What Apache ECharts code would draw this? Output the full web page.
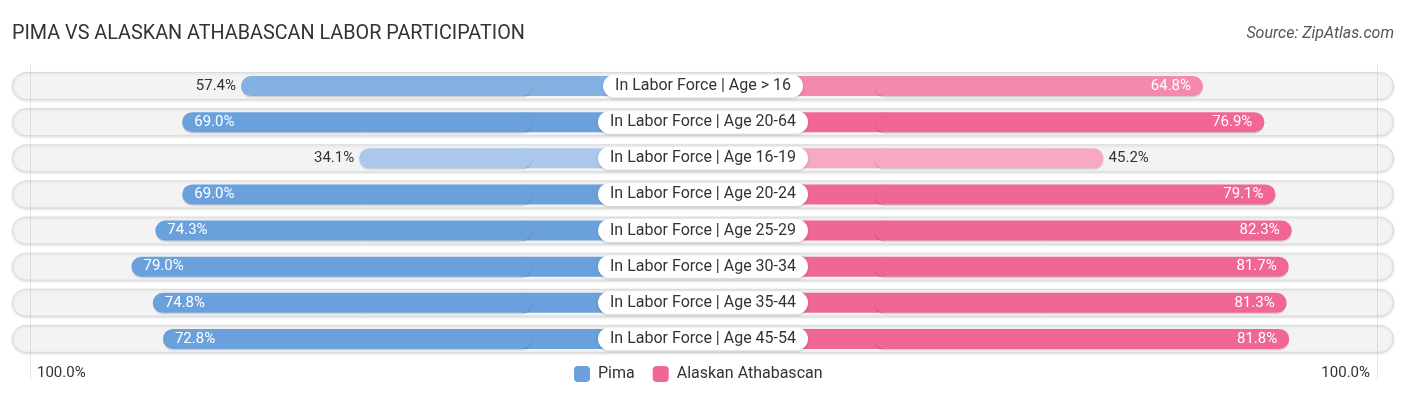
<!DOCTYPE html>
<html>
<head>
<meta charset="utf-8">
<script src="https://cdn.jsdelivr.net/npm/echarts@6/dist/echarts.min.js"></script>
<style>
html,body{margin:0;padding:0;background:#fff;}
#chart{width:1406px;height:395px;}
</style>
</head>
<body>
<div id="chart"></div>
<script>
const categories = [
  'In Labor Force | Age > 16',
  'In Labor Force | Age 20-64',
  'In Labor Force | Age 16-19',
  'In Labor Force | Age 20-24',
  'In Labor Force | Age 25-29',
  'In Labor Force | Age 30-34',
  'In Labor Force | Age 35-44',
  'In Labor Force | Age 45-54'
];
const pima = [57.4, 69.0, 34.1, 69.0, 74.3, 79.0, 74.8, 72.8];
const alaskan = [64.8, 76.9, 45.2, 79.1, 82.3, 81.7, 81.3, 81.8];
const axisLabelText = '100.0%';

const PAD = 33.7;          // part of each half hidden under the centre label
const FONT = 'Roboto, "Noto Sans", sans-serif';

function pimaColor(v){ return v >= 66 ? '#6aa1dc' : (v >= 50 ? '#82b1e2' : '#a9c8ec'); }
function pinkColor(v){ return v >= 66 ? '#f06793' : (v >= 50 ? '#f48aab' : '#f7a9c2'); }

const gridTop = 68, gridH = 289;
const chart = echarts.init(document.getElementById('chart'));

function catAxis(gi){
  return {type:'category', gridIndex:gi, data:categories, inverse:true, show:false};
}
function valueLabel(v, side){
  const inside = v > 60;
  return {
    show:true,
    position: side === 'left' ? (inside ? 'insideLeft' : 'left') : (inside ? 'insideRight' : 'right'),
    distance: inside ? 12 : 5,
    color: inside ? '#ffffff' : '#333333',
    fontSize:15,
    fontFamily:FONT,
    formatter: p => p.value.toFixed(1) + '%'
  };
}
const shadow = {shadowBlur:0, shadowColor:'rgba(0,0,0,0.13)', shadowOffsetY:1.5};

// centre filler under the label, reaching the start of each value bar
function padData(values, colorFn){
  return values.map(v => ({value:PAD + 2, itemStyle:{color:colorFn(v)}}));
}
function barData(values, colorFn, side){
  return values.map(v => ({value:v, label:valueLabel(v, side), itemStyle:{color:colorFn(v)}}));
}

chart.setOption({
  animation:false,
  title:[
    {text:'PIMA VS ALASKAN ATHABASCAN LABOR PARTICIPATION', left:7, top:19,
     textStyle:{fontSize:19.8, fontWeight:'normal', color:'#333', fontFamily:FONT}},
    {text:'Source: ZipAtlas.com', right:7, top:21,
     textStyle:{fontSize:16, fontWeight:'normal', fontStyle:'italic', color:'#555', fontFamily:FONT}},
    {text:axisLabelText, left:32, top:361,
     textStyle:{fontSize:15, fontWeight:'normal', color:'#333', fontFamily:FONT}},
    {text:axisLabelText, right:31, top:361,
     textStyle:{fontSize:15, fontWeight:'normal', color:'#333', fontFamily:FONT}}
  ],
  legend:{
    left:569, top:361, itemWidth:16, itemHeight:16, itemGap:18,
    textStyle:{fontSize:16, color:'#333', fontFamily:FONT, padding:[0,0,0,3]},
    data:[
      {name:'Pima', icon:'roundRect', itemStyle:{color:'#6aa1dc'}},
      {name:'Alaskan Athabascan', icon:'roundRect', itemStyle:{color:'#f06793'}}
    ]
  },
  graphic:[
    {type:'line', shape:{x1:30.5,y1:64,x2:30.5,y2:380}, style:{stroke:'rgba(0,0,0,0.09)', lineWidth:1}, z:50},
    {type:'line', shape:{x1:1377.5,y1:64,x2:1377.5,y2:380}, style:{stroke:'rgba(0,0,0,0.09)', lineWidth:1}, z:50}
  ],
  grid:[
    {left:12, right:12, top:gridTop, height:gridH},
    {left:25, width:678, top:gridTop, height:gridH},
    {left:703.5, width:678, top:gridTop, height:gridH},
    {left:12, right:12, top:gridTop, height:gridH},
    {left:25, width:678, top:gridTop, height:gridH},
    {left:703.5, width:678, top:gridTop, height:gridH}
  ],
  xAxis:[
    {type:'value', gridIndex:0, min:0, max:1, show:false},
    {type:'value', gridIndex:1, min:-PAD, max:100, inverse:true, show:false},
    {type:'value', gridIndex:2, min:-PAD, max:100, show:false},
    {type:'value', gridIndex:3, min:0, max:1, show:false},
    {type:'value', gridIndex:4, min:0, max:PAD + 100, inverse:true, show:false},
    {type:'value', gridIndex:5, min:0, max:PAD + 100, show:false}
  ],
  yAxis:[catAxis(0), catAxis(1), catAxis(2), catAxis(3), catAxis(4), catAxis(5)],
  series:[
    {
      name:'bg', type:'bar', xAxisIndex:0, yAxisIndex:0, z:1, barWidth:28, silent:true,
      data:categories.map(() => 1),
      itemStyle:{color:'#f3f3f3', borderColor:'#dadada', borderWidth:1, borderRadius:14,
        shadowBlur:3, shadowColor:'rgba(0,0,0,0.12)', shadowOffsetY:1}
    },
    {
      name:'pimaPad', type:'bar', xAxisIndex:4, yAxisIndex:4, z:2, barWidth:20, silent:true,
      data:padData(pima, pimaColor)
    },
    {
      name:'alaskanPad', type:'bar', xAxisIndex:5, yAxisIndex:5, z:2, barWidth:20, silent:true,
      data:padData(alaskan, pinkColor)
    },
    {
      name:'Pima', type:'bar', xAxisIndex:1, yAxisIndex:1, z:3, barWidth:20,
      data:barData(pima, pimaColor, 'left'),
      itemStyle:Object.assign({color:'#6aa1dc', borderRadius:10}, shadow)
    },
    {
      name:'Alaskan Athabascan', type:'bar', xAxisIndex:2, yAxisIndex:2, z:3, barWidth:20,
      data:barData(alaskan, pinkColor, 'right'),
      itemStyle:Object.assign({color:'#f06793', borderRadius:10}, shadow)
    },
    {
      name:'labels', type:'bar', xAxisIndex:3, yAxisIndex:3, z:10, barWidth:20, silent:true,
      data:categories.map(() => 1),
      itemStyle:{color:'rgba(0,0,0,0)'},
      label:{
        show:true, position:'inside', formatter:'{b}',
        fontSize:16, color:'#333', fontFamily:FONT,
        backgroundColor:'#ffffff', borderRadius:12, padding:[4,12,3,12],
        shadowBlur:3, shadowColor:'rgba(0,0,0,0.18)', shadowOffsetY:1
      }
    }
  ]
});
</script>
</body>
</html>
